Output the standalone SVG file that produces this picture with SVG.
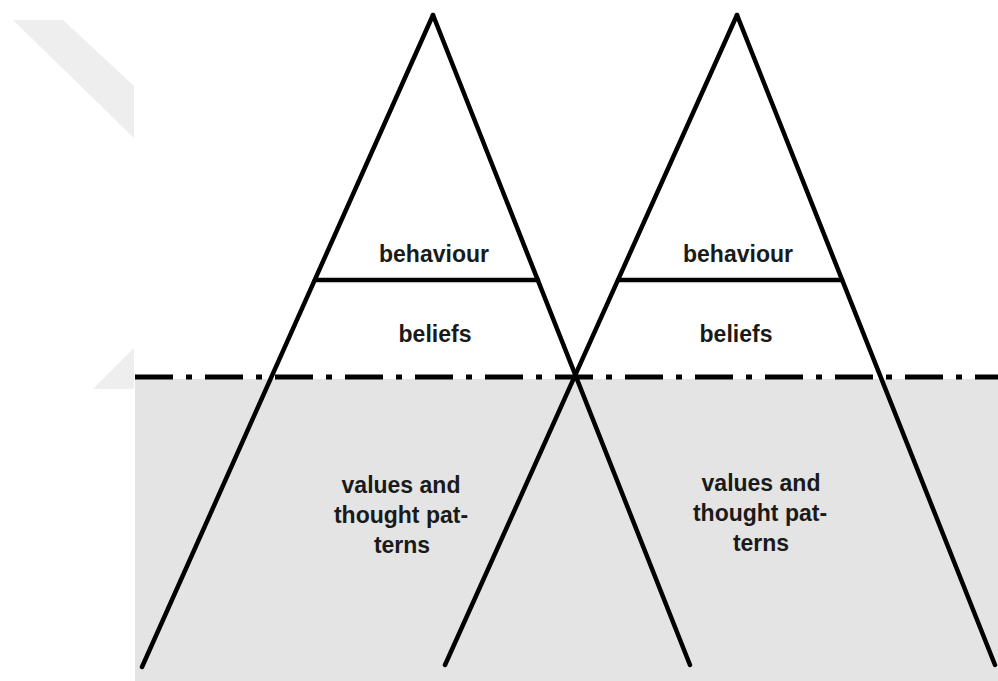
<svg xmlns="http://www.w3.org/2000/svg" width="998" height="681" viewBox="0 0 998 681">
  <style>
    .ln { stroke: #000; stroke-width: 4.5; stroke-linecap: round; fill: none; }
    .lbl { font-family: "Liberation Sans", Arial, Helvetica, sans-serif; font-weight: bold; font-size: 23px; fill: #1a1a1a; text-anchor: middle; }
  </style>
  <rect x="0" y="0" width="998" height="681" fill="#ffffff"/>
  <g id="watermark" fill="#eeeeee">
    <polygon points="13,20 63,20 134,86 134,138"/>
    <polygon points="134,348 134,389 93,389"/>
  </g>
  <g id="below-surface">
    <rect x="135" y="379" width="863" height="302" fill="#e4e4e4"/>
  </g>
  <g id="waterline">
    <line x1="135" y1="377" x2="998" y2="377" stroke="#000" stroke-width="5" stroke-dasharray="38 13 6 13"/>
  </g>
  <g id="connectors">
    <g id="iceberg-left">
      <line class="ln" x1="433" y1="15" x2="142" y2="667"/>
      <line class="ln" x1="433" y1="15" x2="690" y2="665"/>
      <line class="ln" x1="315" y1="280" x2="538" y2="280" stroke-linecap="butt"/>
    </g>
    <g id="iceberg-right">
      <line class="ln" x1="737" y1="15" x2="445" y2="665"/>
      <line class="ln" x1="737" y1="15" x2="995" y2="665"/>
      <line class="ln" x1="618" y1="280" x2="842" y2="280" stroke-linecap="butt"/>
    </g>
  </g>
  <g id="left-behaviour"><text class="lbl" x="434" y="262">behaviour</text></g>
  <g id="left-beliefs"><text class="lbl" x="435" y="342">beliefs</text></g>
  <g id="left-values">
    <text class="lbl" x="401" y="493">values and</text>
    <text class="lbl" x="401" y="523">thought pat-</text>
    <text class="lbl" x="402" y="553">terns</text>
  </g>
  <g id="right-behaviour"><text class="lbl" x="738" y="262">behaviour</text></g>
  <g id="right-beliefs"><text class="lbl" x="736" y="342">beliefs</text></g>
  <g id="right-values">
    <text class="lbl" x="761" y="491">values and</text>
    <text class="lbl" x="760" y="521">thought pat-</text>
    <text class="lbl" x="761" y="551">terns</text>
  </g>
</svg>
